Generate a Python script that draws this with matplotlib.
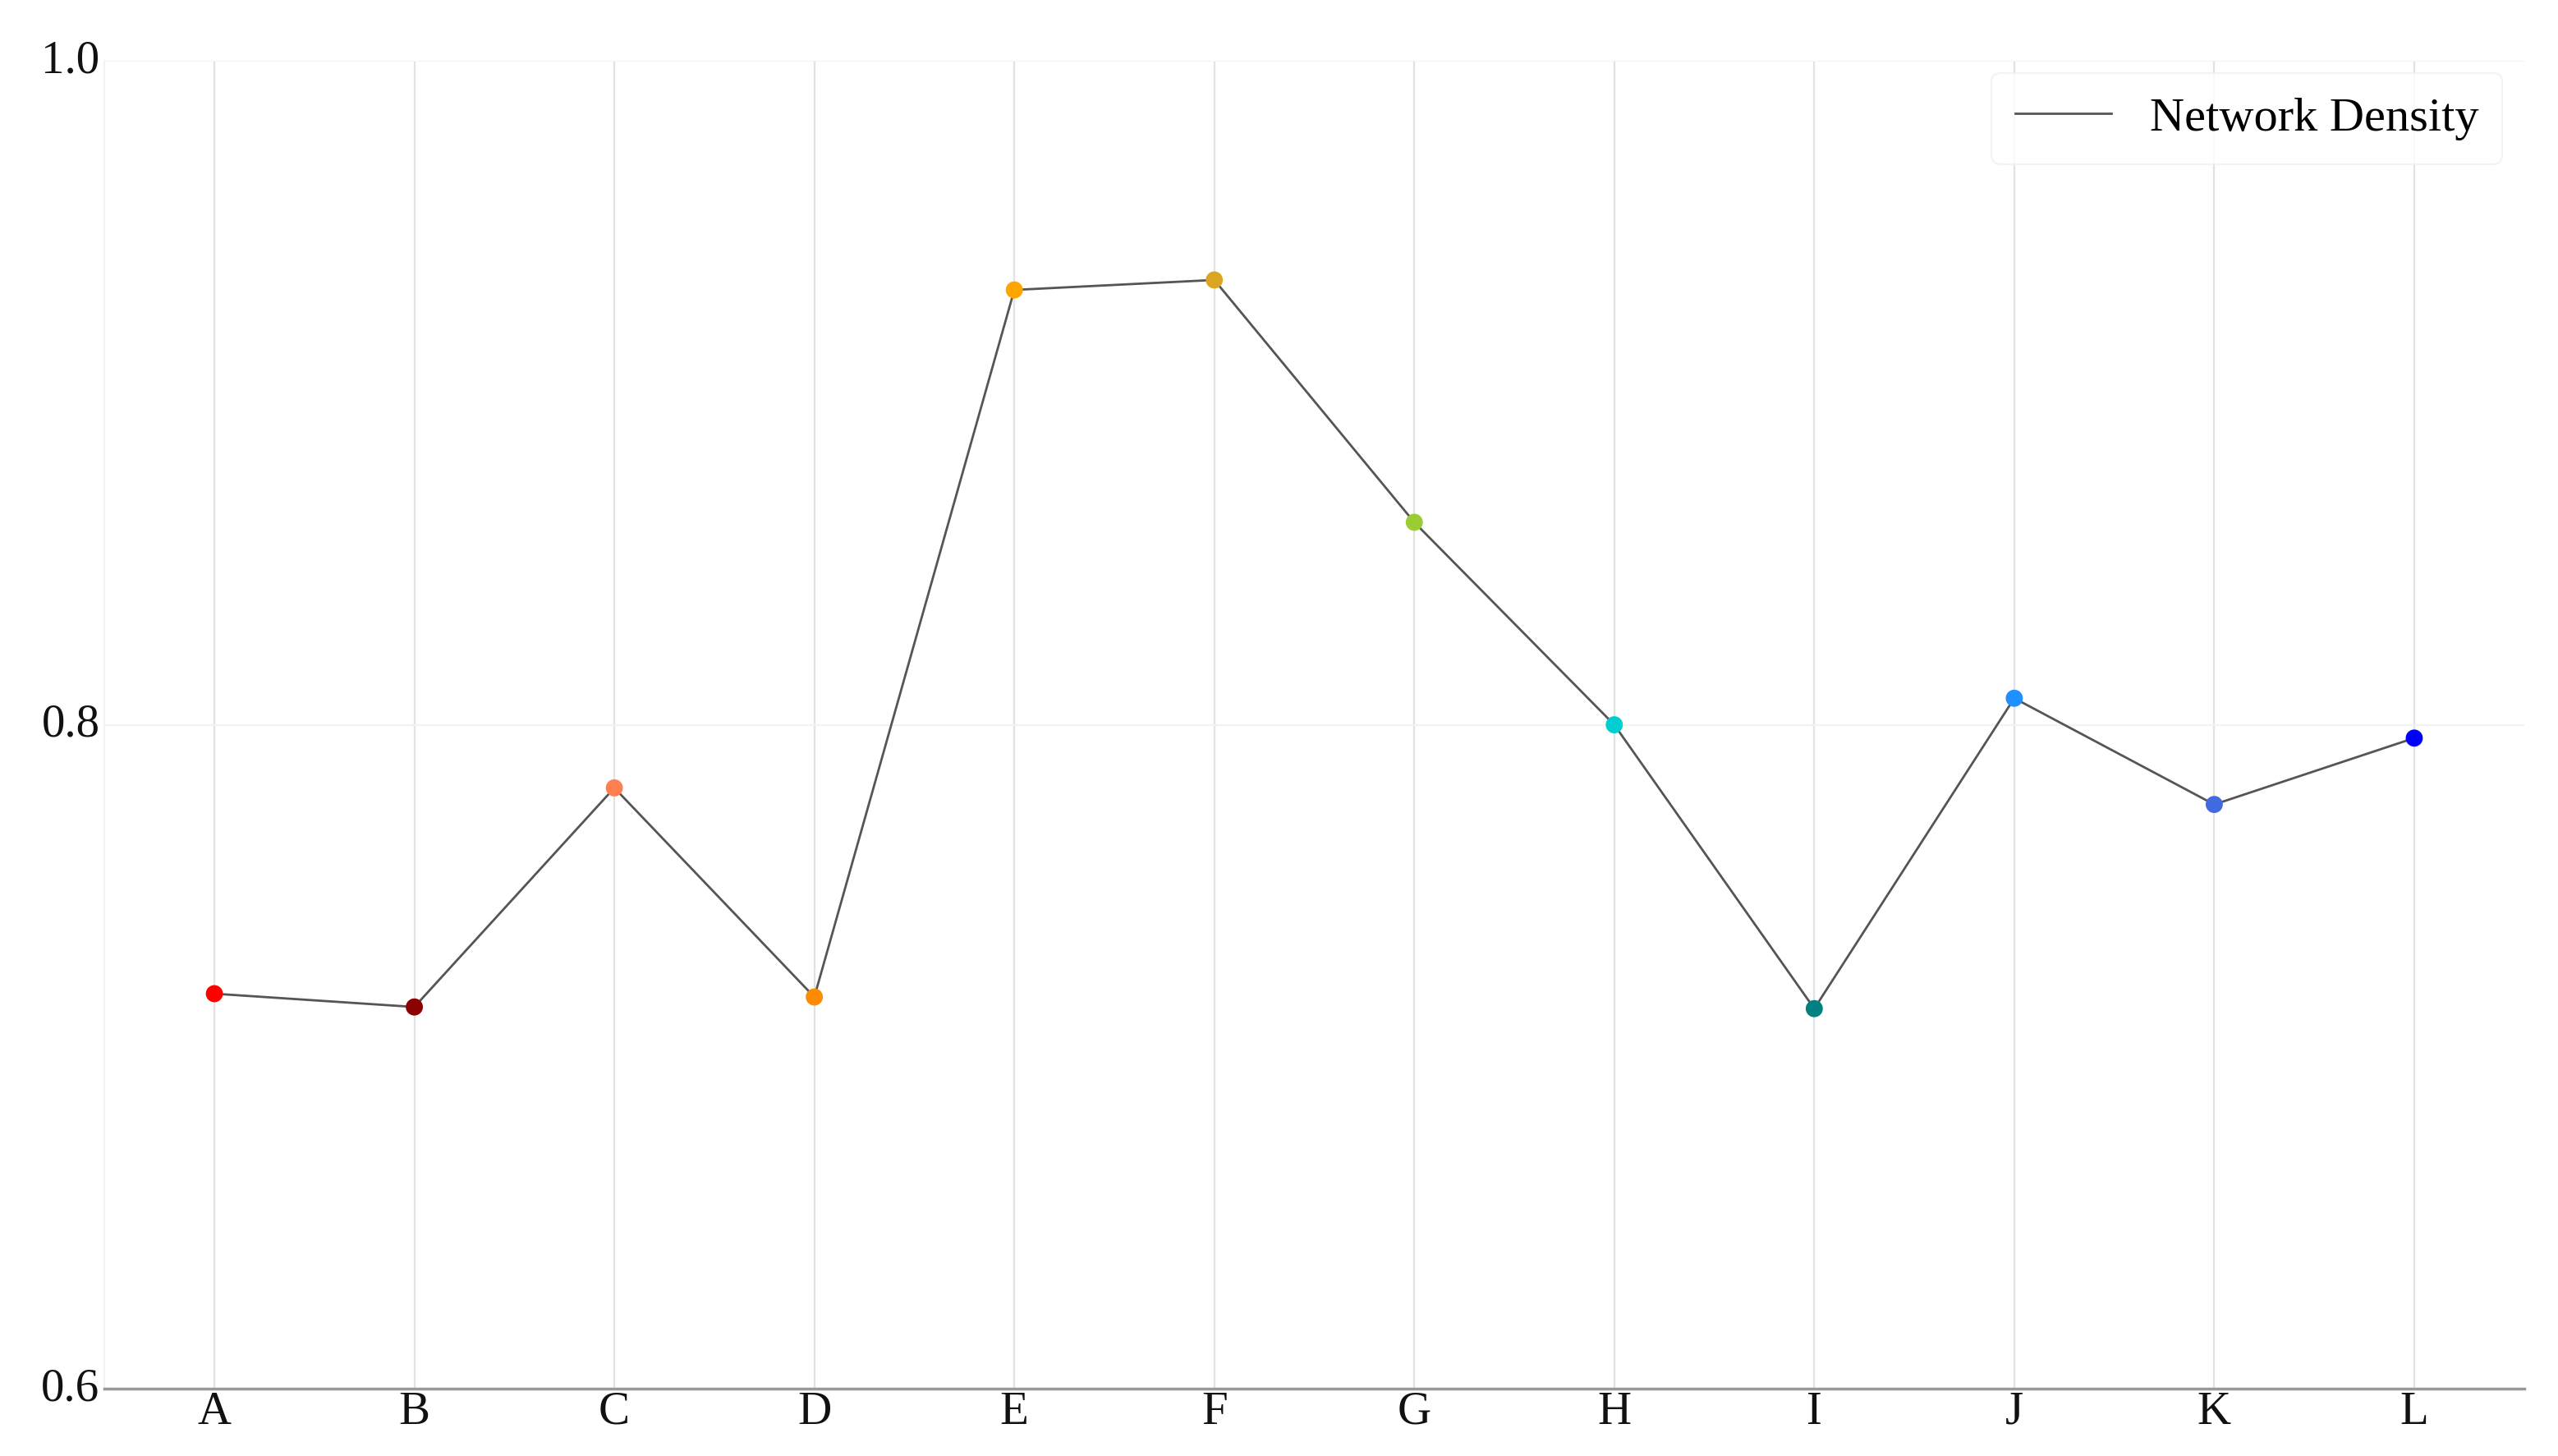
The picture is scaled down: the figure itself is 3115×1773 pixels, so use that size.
import numpy as np
import matplotlib.pyplot as plt

LABELS = ['A', 'B', 'C', 'D', 'E', 'F', 'G', 'H', 'I', 'J', 'K', 'L']
DENSITY = [0.719, 0.715, 0.781, 0.718, 0.931, 0.934, 0.861, 0.800, 0.7145, 0.808, 0.776, 0.796]
COLORS = ['red', 'darkred', 'coral', 'darkorange', 'orange', 'goldenrod',
          'yellowgreen', 'darkturquoise', 'teal', 'dodgerblue', 'royalblue', 'blue']
YTICKS = [0.6, 0.8, 1.0]

plt.rcParams['font.family'] = ['Liberation Serif', 'DejaVu Serif']

fig = plt.figure(figsize=(31.15, 17.73), dpi=100)
ax = fig.add_axes([0.0408, 0.0462, 0.946, 0.912])

x = np.arange(len(LABELS))
ax.plot(x, DENSITY, color='#555555', lw=2.0, label='Network Density', zorder=2)
ax.scatter(x, DENSITY, s=15 ** 2, c=COLORS, zorder=3, linewidths=0)

ax.set_xlim(-0.55, len(LABELS) - 0.45)
ax.set_ylim(0.6, 1.0)
ax.set_xticks(x)
ax.set_xticklabels(LABELS)
ax.set_yticks(YTICKS)
ax.set_yticklabels(['%.1f' % v for v in YTICKS])

ax.xaxis.grid(True, color='#e2e2e2', lw=1.6, zorder=0)
ax.yaxis.grid(True, color='#f3f3f3', lw=1.6, zorder=0)
ax.set_axisbelow(True)
for side in ['top', 'right']:
    ax.spines[side].set_visible(False)
ax.spines['left'].set_color('#f2f2f2')
ax.spines['left'].set_linewidth(1.5)
ax.spines['bottom'].set_color('#999999')
ax.spines['bottom'].set_linewidth(2.5)
ax.tick_params(axis='both', length=0, labelsize=41, colors='#111111')
ax.tick_params(axis='x', pad=2)
ax.tick_params(axis='y', pad=4)
for lab in ax.get_yticklabels():
    lab.set_verticalalignment('center')

leg = ax.legend(loc='upper right', fontsize=42, frameon=True, fancybox=True,
                handlelength=2.0, handletextpad=0.8, borderpad=0.5,
                borderaxespad=0, bbox_to_anchor=(0.991, 0.991))
leg.get_frame().set_edgecolor('#f0f0f0')
leg.get_frame().set_linewidth(1.5)

fig.savefig('out.png', dpi=100, facecolor='white')
